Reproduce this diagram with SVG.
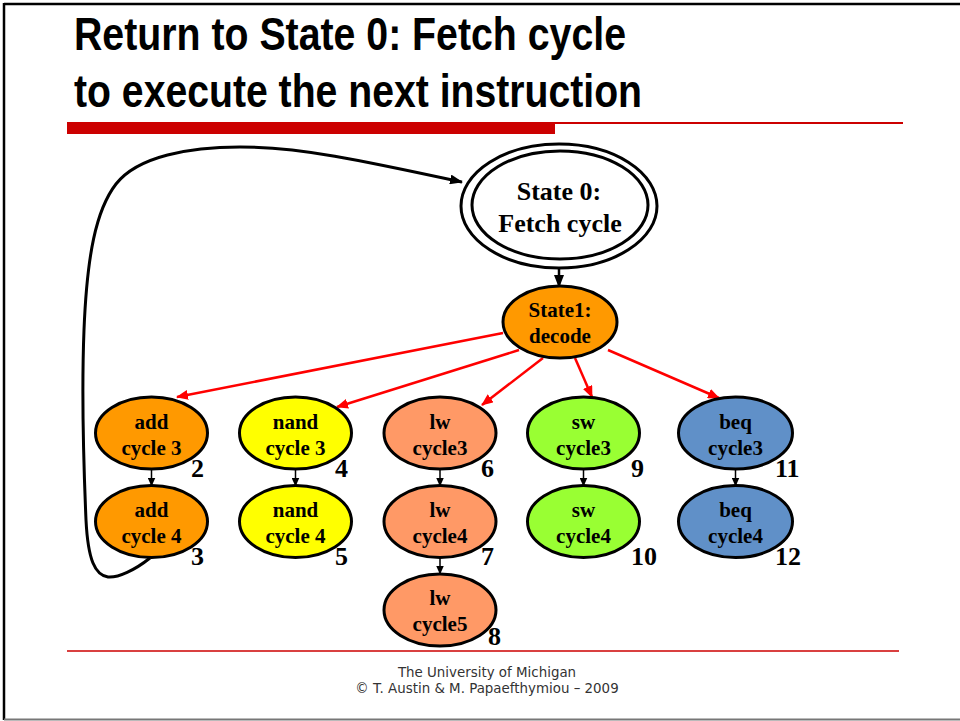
<svg xmlns="http://www.w3.org/2000/svg" width="960" height="721" viewBox="0 0 960 721">
<defs>
<style>
.title{font-family:"Liberation Sans",Arial,sans-serif;font-weight:bold;font-size:46px;fill:#000}
.nt{font-family:"Liberation Serif","Times New Roman",serif;font-weight:bold;font-size:21px;fill:#000;text-anchor:middle}
.big{font-family:"Liberation Serif","Times New Roman",serif;font-weight:bold;font-size:26px;fill:#000;text-anchor:middle}
.num{font-family:"Liberation Serif","Times New Roman",serif;font-weight:bold;font-size:26px;fill:#000}
.foot{font-family:"DejaVu Sans",Verdana,sans-serif;font-size:13.4px;fill:#333;text-anchor:middle}
.n{stroke:#000;stroke-width:3}
.red{stroke:#FF0000;stroke-width:2.5;fill:none;marker-end:url(#ar)}
.blk{stroke:#000;stroke-width:1.5;fill:none;marker-end:url(#ab)}
</style>
<marker id="ar" markerUnits="userSpaceOnUse" markerWidth="12" markerHeight="10" refX="11" refY="5" orient="auto">
<path d="M0,0 L12,5 L0,10 Z" fill="#FF0000"/>
</marker>
<marker id="ab" markerUnits="userSpaceOnUse" markerWidth="9" markerHeight="8" refX="8.5" refY="4" orient="auto">
<path d="M0,0 L9,4 L0,8 Z" fill="#000"/>
</marker>
<marker id="abig" markerUnits="userSpaceOnUse" markerWidth="13" markerHeight="10" refX="12" refY="5" orient="auto">
<path d="M0,0 L13,5 L0,10 Z" fill="#000"/>
</marker>
</defs>
<rect x="0" y="0" width="960" height="721" fill="#fff"/>
<g id="frame">
<line x1="4" y1="4" x2="960" y2="4" stroke="#000" stroke-width="2.5"/>
<line x1="4" y1="3" x2="4" y2="720" stroke="#000" stroke-width="2.5"/>
<line x1="4" y1="719.5" x2="960" y2="719.5" stroke="#777" stroke-width="2"/>
</g>
<g id="title">
<text class="title" x="74" y="50" textLength="552" lengthAdjust="spacingAndGlyphs">Return to State 0: Fetch cycle</text>
<text class="title" x="74" y="107" textLength="568" lengthAdjust="spacingAndGlyphs">to execute the next instruction</text>
<rect x="67" y="122" width="488" height="12" fill="#CC0000"/>
<rect x="555" y="122" width="348" height="2" fill="#CC0000"/>
</g>
<g id="connectors">
<path d="M150 558 C135 570,118 578,108 577 C95 575,88 560,86 520 C83 450,82 380,84 330 C87 255,96 210,116 184 C138 156,190 147,240 147 C300 147,360 160,462 182" fill="none" stroke="#000" stroke-width="3" marker-end="url(#abig)"/>
<line x1="559" y1="269" x2="559" y2="287" stroke="#000" stroke-width="2.5" marker-end="url(#abig)"/>
<line class="red" x1="503" y1="333" x2="177" y2="397"/>
<line class="red" x1="519" y1="350" x2="337" y2="407"/>
<line class="red" x1="543" y1="358" x2="482" y2="405"/>
<line class="red" x1="575" y1="358" x2="592" y2="397"/>
<line class="red" x1="608" y1="350" x2="719" y2="398"/>
<line class="blk" x1="151.5" y1="469" x2="151.5" y2="486"/>
<line class="blk" x1="295.5" y1="469" x2="295.5" y2="486"/>
<line class="blk" x1="440" y1="469" x2="440" y2="486"/>
<line class="blk" x1="440" y1="558" x2="440" y2="574"/>
<line class="blk" x1="583.5" y1="469" x2="583.5" y2="486"/>
<line class="blk" x1="735.5" y1="469" x2="735.5" y2="486"/>
</g>
<g id="state0">
<ellipse cx="559" cy="206" rx="98" ry="62" fill="#fff" class="n"/>
<ellipse cx="560" cy="205" rx="88" ry="54" fill="#fff" class="n"/>
<text class="big" x="559" y="200">State 0:</text>
<text class="big" x="560" y="232">Fetch cycle</text>
</g>
<g id="state1">
<ellipse cx="560" cy="322" rx="57" ry="36" fill="#FF9900" class="n"/>
<text class="nt" x="560" y="317">State1:</text>
<text class="nt" x="560" y="343">decode</text>
</g>
<g id="add3">
<ellipse cx="151.5" cy="433" rx="56" ry="36" fill="#FF9900" class="n"/>
<text class="nt" x="151.5" y="429">add</text>
<text class="nt" x="151.5" y="455">cycle 3</text>
<text class="num" x="191" y="477">2</text>
</g>
<g id="add4">
<ellipse cx="151.5" cy="521.5" rx="56" ry="36" fill="#FF9900" class="n"/>
<text class="nt" x="151.5" y="517">add</text>
<text class="nt" x="151.5" y="543">cycle 4</text>
<text class="num" x="191" y="565">3</text>
</g>
<g id="nand3">
<ellipse cx="295.5" cy="433" rx="56" ry="36" fill="#FFFF00" class="n"/>
<text class="nt" x="295.5" y="429">nand</text>
<text class="nt" x="295.5" y="455">cycle 3</text>
<text class="num" x="335" y="477">4</text>
</g>
<g id="nand4">
<ellipse cx="295.5" cy="521.5" rx="56" ry="36" fill="#FFFF00" class="n"/>
<text class="nt" x="295.5" y="517">nand</text>
<text class="nt" x="295.5" y="543">cycle 4</text>
<text class="num" x="335" y="565">5</text>
</g>
<g id="lw3">
<ellipse cx="440" cy="433" rx="56" ry="36" fill="#FF9966" class="n"/>
<text class="nt" x="440" y="429">lw</text>
<text class="nt" x="440" y="455">cycle3</text>
<text class="num" x="481" y="477">6</text>
</g>
<g id="lw4">
<ellipse cx="440" cy="521.5" rx="56" ry="36" fill="#FF9966" class="n"/>
<text class="nt" x="440" y="517">lw</text>
<text class="nt" x="440" y="543">cycle4</text>
<text class="num" x="481" y="565">7</text>
</g>
<g id="lw5">
<ellipse cx="440" cy="610" rx="56" ry="36" fill="#FF9966" class="n"/>
<text class="nt" x="440" y="605">lw</text>
<text class="nt" x="440" y="631">cycle5</text>
<text class="num" x="488" y="645">8</text>
</g>
<g id="sw3">
<ellipse cx="583.5" cy="433" rx="56" ry="36" fill="#99FF33" class="n"/>
<text class="nt" x="583.5" y="429">sw</text>
<text class="nt" x="583.5" y="455">cycle3</text>
<text class="num" x="631" y="477">9</text>
</g>
<g id="sw4">
<ellipse cx="583.5" cy="521.5" rx="56" ry="36" fill="#99FF33" class="n"/>
<text class="nt" x="583.5" y="517">sw</text>
<text class="nt" x="583.5" y="543">cycle4</text>
<text class="num" x="631" y="565">10</text>
</g>
<g id="beq3">
<ellipse cx="735.5" cy="433" rx="57" ry="36" fill="#6090C8" class="n"/>
<text class="nt" x="735.5" y="429">beq</text>
<text class="nt" x="735.5" y="455">cycle3</text>
<text class="num" x="775" y="477">11</text>
</g>
<g id="beq4">
<ellipse cx="735.5" cy="521.5" rx="57" ry="36" fill="#6090C8" class="n"/>
<text class="nt" x="735.5" y="517">beq</text>
<text class="nt" x="735.5" y="543">cycle4</text>
<text class="num" x="775" y="565">12</text>
</g>
<g id="footer">
<line x1="67" y1="651" x2="899" y2="651" stroke="#CC0000" stroke-width="1.5"/>
<text class="foot" x="487" y="677">The University of Michigan</text>
<text class="foot" x="487" y="693">© T. Austin &amp; M. Papaefthymiou – 2009</text>
</g>
</svg>
